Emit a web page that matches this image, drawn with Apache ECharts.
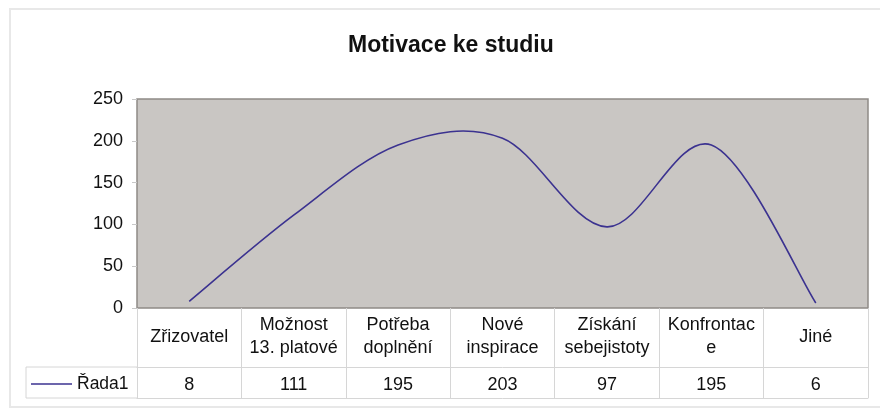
<!DOCTYPE html>
<html>
<head>
<meta charset="utf-8">
<script src="https://cdn.jsdelivr.net/npm/echarts@6/dist/echarts.min.js"></script>
<style>
  html, body { margin: 0; padding: 0; background: #fff; }
  #main { width: 880px; height: 409px; }
</style>
</head>
<body>
<div id="main"></div>
<script>
var categories = ["Zřizovatel", "Možnost\n13. platové", "Potřeba\ndoplnění", "Nové\ninspirace", "Získání\nsebejistoty", "Konfrontac\ne", "Jiné"];
var values = [8, 111, 195, 203, 97, 195, 6];
var yTicks = [0, 50, 100, 150, 200, 250];
var seriesName = "Řada1";

var font = "Liberation Sans, Arial, sans-serif";
var tableLine = "#d6d6d6";
var lineColor = "#3b3290";

var myChart = echarts.init(document.getElementById("main"));

// Excel-style smoothed line (Catmull-Rom through the points, via the axis scales)
function renderSmoothLine(params, api) {
  if (params.dataIndex !== 0) return null;
  var pts = values.map(function (v, i) { return api.coord([i, v]); });
  var d = "M" + pts[0][0] + "," + pts[0][1];
  for (var i = 0; i < pts.length - 1; i++) {
    var p0 = pts[i - 1] || pts[i];
    var p1 = pts[i];
    var p2 = pts[i + 1];
    var p3 = pts[i + 2] || pts[i + 1];
    var c1x = p1[0] + (p2[0] - p0[0]) / 6;
    var c1y = p1[1] + (p2[1] - p0[1]) / 6;
    var c2x = p2[0] - (p3[0] - p1[0]) / 6;
    var c2y = p2[1] - (p3[1] - p1[1]) / 6;
    d += " C" + c1x + "," + c1y + " " + c2x + "," + c2y + " " + p2[0] + "," + p2[1];
  }
  return {
    type: "path",
    shape: { pathData: d },
    style: { fill: "none", stroke: lineColor, lineWidth: 1.6 }
  };
}

var option = {
  animation: false,
  textStyle: { fontFamily: font },
  title: {
    text: "Motivace ke studiu",
    left: 343,
    top: 29,
    textStyle: { fontSize: 23, fontWeight: "bold", color: "#111", fontFamily: font }
  },
  legend: {
    left: 31,
    top: 375,
    padding: 0,
    icon: "rect",
    itemWidth: 41,
    itemHeight: 1.5,
    itemGap: 4,
    textStyle: { fontSize: 17.5, color: "#111", fontFamily: font, padding: [0, 0, 0, 0] },
    data: [{ name: seriesName, itemStyle: { color: lineColor } }]
  },
  grid: {
    left: 137,
    top: 99,
    width: 731,
    height: 209,
    show: true,
    backgroundColor: "#c9c6c3",
    borderColor: "#8f8a87",
    borderWidth: 1.5
  },
  xAxis: [
    {
      type: "category",
      data: categories,
      boundaryGap: true,
      position: "bottom",
      axisLine: { show: false },
      axisTick: { show: true, length: 90, lineStyle: { color: tableLine } },
      axisLabel: {
        interval: 0,
        margin: 29,
        verticalAlign: "middle",
        fontSize: 18,
        lineHeight: 23,
        color: "#111",
        fontFamily: font
      }
    },
    {
      type: "category",
      data: categories,
      boundaryGap: true,
      position: "bottom",
      offset: 59,
      axisLine: { show: true, lineStyle: { color: tableLine } },
      axisTick: { show: false },
      axisLabel: {
        interval: 0,
        margin: 18,
        verticalAlign: "middle",
        fontSize: 18,
        color: "#111",
        fontFamily: font,
        formatter: function (v, i) { return String(values[i]); }
      }
    },
    {
      type: "category",
      data: categories,
      position: "bottom",
      offset: 90,
      axisLine: { show: true, lineStyle: { color: tableLine } },
      axisTick: { show: false },
      axisLabel: { show: false }
    }
  ],
  yAxis: {
    type: "value",
    min: yTicks[0],
    max: yTicks[yTicks.length - 1],
    interval: 50,
    axisLine: { show: false },
    axisTick: { show: true, length: 5, lineStyle: { color: "#c8c8c8" } },
    splitLine: { show: false },
    axisLabel: { fontSize: 18, color: "#111", margin: 14, fontFamily: font }
  },
  graphic: [
    {
      type: "rect",
      silent: true,
      shape: { x: 10, y: 9, width: 880, height: 398 },
      style: { fill: "none", stroke: "#e8e8e8", lineWidth: 2 }
    },
    {
      type: "polyline",
      silent: true,
      shape: { points: [[137, 367], [26, 367], [26, 398], [137, 398]] },
      style: { fill: "none", stroke: tableLine, lineWidth: 1 }
    }
  ],
  series: [
    {
      name: seriesName,
      type: "custom",
      xAxisIndex: 0,
      itemStyle: { color: lineColor },
      renderItem: renderSmoothLine,
      data: values.map(function (v, i) { return [i, v]; }),
      encode: { x: 0, y: 1 }
    }
  ]
};

myChart.setOption(option);
</script>
</body>
</html>
